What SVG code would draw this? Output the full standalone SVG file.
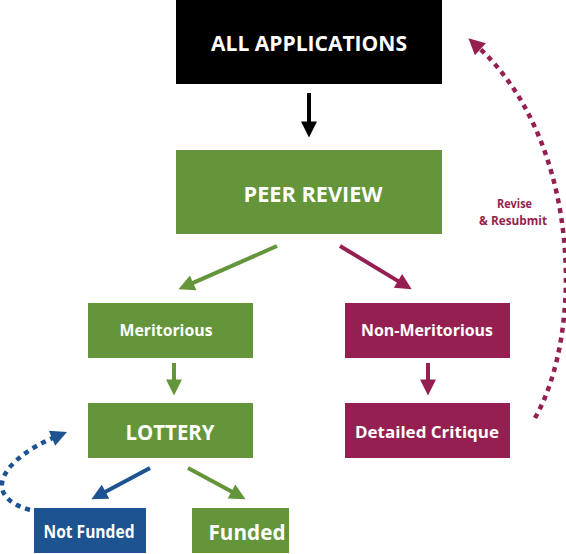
<svg xmlns="http://www.w3.org/2000/svg" width="566" height="554" viewBox="0 0 566 554">
<defs>
<style>
.t{font-family:"Open Sans","Liberation Sans",sans-serif;font-weight:700;fill:#fff;text-anchor:middle}
.g{fill:#64953a}.m{fill:#951f50}.b{fill:#1c5390}
.ln{fill:none;stroke-width:4}
.dot{fill:none;stroke-width:4.5;stroke-dasharray:5 5}
</style>
<marker id="hk" viewBox="0 0 10 10" refX="2" refY="5" markerWidth="4.5" markerHeight="4" markerUnits="strokeWidth" orient="auto"><path d="M0,0L10,5L0,10z" fill="#000"/></marker>
<marker id="hg" viewBox="0 0 10 10" refX="2" refY="5" markerWidth="4.5" markerHeight="4" markerUnits="strokeWidth" orient="auto"><path d="M0,0L10,5L0,10z" fill="#64953a"/></marker>
<marker id="hm" viewBox="0 0 10 10" refX="2" refY="5" markerWidth="4.5" markerHeight="4" markerUnits="strokeWidth" orient="auto"><path d="M0,0L10,5L0,10z" fill="#951f50"/></marker>
<marker id="hb" viewBox="0 0 10 10" refX="2" refY="5" markerWidth="4.5" markerHeight="4" markerUnits="strokeWidth" orient="auto"><path d="M0,0L10,5L0,10z" fill="#1c5390"/></marker>
<marker id="hmd" viewBox="0 0 10 10" refX="2" refY="5" markerWidth="4" markerHeight="3.6" markerUnits="strokeWidth" orient="auto"><path d="M0,0L10,5L0,10z" fill="#951f50"/></marker>
<marker id="hbd" viewBox="0 0 10 10" refX="2" refY="5" markerWidth="4" markerHeight="3.6" markerUnits="strokeWidth" orient="auto"><path d="M0,0L10,5L0,10z" fill="#1c5390"/></marker>
</defs>
<rect width="566" height="554" fill="#fff"/>
<g id="all-applications"><rect x="176" y="0" width="266" height="84" fill="#000"/><text class="t" x="309" y="51" font-size="22" textLength="196" lengthAdjust="spacingAndGlyphs">ALL APPLICATIONS</text></g>
<g id="peer-review"><rect class="g" x="176" y="150" width="266" height="84"/><text class="t" x="313" y="202" font-size="22" textLength="139" lengthAdjust="spacingAndGlyphs">PEER REVIEW</text></g>
<g id="meritorious"><rect class="g" x="88" y="303" width="165" height="55"/><text class="t" x="166" y="336" font-size="16" textLength="93" lengthAdjust="spacingAndGlyphs">Meritorious</text></g>
<g id="lottery"><rect class="g" x="88" y="403" width="165" height="55"/><text class="t" x="170" y="440" font-size="22" textLength="89" lengthAdjust="spacingAndGlyphs">LOTTERY</text></g>
<g id="non-meritorious"><rect class="m" x="345" y="303" width="165" height="55"/><text class="t" x="427" y="336" font-size="16" textLength="132" lengthAdjust="spacingAndGlyphs">Non-Meritorious</text></g>
<g id="detailed-critique"><rect class="m" x="345" y="403" width="165" height="55"/><text class="t" x="427" y="438" font-size="16" textLength="144" lengthAdjust="spacingAndGlyphs">Detailed Critique</text></g>
<g id="not-funded"><rect class="b" x="34" y="508" width="112" height="45"/><text class="t" x="89" y="538" font-size="17" textLength="91" lengthAdjust="spacingAndGlyphs">Not Funded</text></g>
<g id="funded"><rect class="g" x="192" y="508" width="97" height="45"/><text class="t" x="247" y="540" font-size="22" textLength="77" lengthAdjust="spacingAndGlyphs">Funded</text></g>
<g id="revise-label" font-family="'Open Sans','Liberation Sans',sans-serif" font-weight="700" font-size="13" fill="#951f50" text-anchor="middle"><text x="514.5" y="208" textLength="35" lengthAdjust="spacingAndGlyphs">Revise</text><text x="513" y="225" textLength="68" lengthAdjust="spacingAndGlyphs">&amp; Resubmit</text></g>
<g id="connectors">
<line class="ln" x1="309" y1="93" x2="309" y2="124.6" stroke="#000" marker-end="url(#hk)"/>
<line class="ln" x1="277" y1="246" x2="190.2" y2="284.2" stroke="#64953a" marker-end="url(#hg)"/>
<line class="ln" x1="340" y1="246" x2="400.7" y2="282.6" stroke="#951f50" marker-end="url(#hm)"/>
<line class="ln" x1="174" y1="363" x2="174" y2="382.6" stroke="#64953a" marker-end="url(#hg)"/>
<line class="ln" x1="428" y1="363" x2="428" y2="382.6" stroke="#951f50" marker-end="url(#hm)"/>
<line class="ln" x1="150" y1="468" x2="102.7" y2="493.2" stroke="#1c5390" marker-end="url(#hb)"/>
<line class="ln" x1="188" y1="468" x2="234.3" y2="493.1" stroke="#64953a" marker-end="url(#hg)"/>
<path class="dot" d="M535,418C585,330 580,140 478,47" stroke="#951f50" marker-end="url(#hmd)"/>
<path class="dot" d="M30,510C-22,495 5,458 55,437" stroke="#1c5390" marker-end="url(#hbd)"/>
</g>
</svg>
